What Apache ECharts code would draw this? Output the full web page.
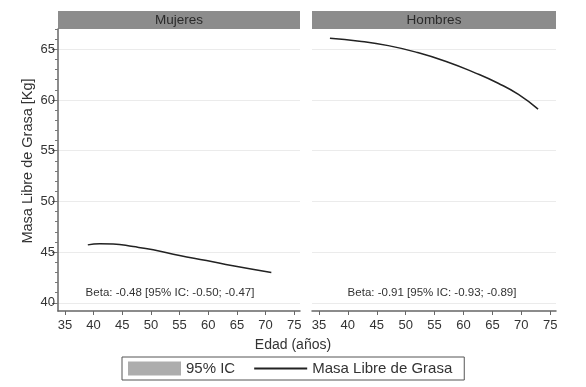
<!DOCTYPE html>
<html>
<head>
<meta charset="utf-8">
<script src="https://cdn.jsdelivr.net/npm/echarts@6/dist/echarts.min.js"></script>
<style>
  html, body { margin: 0; padding: 0; background: #fff; }
  #chart { width: 586px; height: 387px; }
</style>
</head>
<body>
<div id="chart"></div>
<script>
// datos
const panelNames = ['Mujeres', 'Hombres']
const xTicks = [35, 40, 45, 50, 55, 60, 65, 70, 75]
const yTicks = [40, 45, 50, 55, 60, 65]
const yMinorTicks = [39, 40, 41, 42, 43, 44, 45, 46, 47, 48, 49, 50, 51, 52, 53, 54, 55, 56, 57, 58, 59, 60, 61, 62, 63, 64, 65, 66, 67]
const mujeresEdad = [39.0, 41.1, 43.4, 46.9, 50.4, 55.0, 59.7, 64.3, 71.0]
const mujeresMasa = [45.72, 45.84, 45.81, 45.55, 45.23, 44.67, 44.18, 43.66, 43.0]
const hombresEdad = [36.9, 42, 47, 52, 57, 62, 66, 69.5, 72.9]
const hombresMasa = [66.08, 65.8, 65.36, 64.69, 63.8, 62.68, 61.65, 60.55, 59.1]
const betaTexts = ['Beta: -0.48 [95% IC: -0.50; -0.47]', 'Beta: -0.91 [95% IC: -0.93; -0.89]']

const chart = echarts.init(document.getElementById('chart'))

const font = 'Liberation Sans, Arial, sans-serif'
const grids = [
  { left: 58, top: 29, width: 242, height: 282 },
  { left: 312, top: 29, width: 244, height: 282 }
]

function xAxisFor (i) {
  return {
    type: 'value', gridIndex: i, min: 33.8, max: 76,
    axisLine: { show: true, lineStyle: { color: '#666', width: 1.5 } },
    axisTick: { show: true, customValues: xTicks, length: 4, lineStyle: { color: '#666' } },
    axisLabel: { customValues: xTicks, color: '#333', fontSize: 13, fontFamily: font, margin: 8 },
    splitLine: { show: false }
  }
}

function yAxisFor (i) {
  return {
    type: 'value', gridIndex: i, min: 39.2, max: 67, position: 'left',
    axisLine: { show: i === 0, lineStyle: { color: '#666', width: 1.5 } },
    axisTick: { show: i === 0, customValues: yTicks, length: 6, lineStyle: { color: '#666' } },
    axisLabel: { show: i === 0, customValues: yTicks, color: '#333', fontSize: 13, fontFamily: font, margin: 3 },
    splitLine: { show: true, lineStyle: { color: '#ebebeb', width: 1 } }
  }
}

// eje extra solo para las marcas menores
const minorAxis = {
  type: 'value', gridIndex: 0, min: 39.2, max: 67, position: 'left',
  axisLine: { show: false },
  axisTick: { show: true, customValues: yMinorTicks, length: 3, lineStyle: { color: '#777' } },
  axisLabel: { show: false },
  splitLine: { show: false }
}

const option = {
  backgroundColor: '#fff',
  animation: false,
  grid: grids,
  xAxis: [xAxisFor(0), xAxisFor(1)],
  yAxis: [yAxisFor(0), yAxisFor(1), minorAxis],
  legend: {
    left: 122, top: 357, width: 342,
    padding: [4, 12, 4, 6],
    borderColor: '#555', borderWidth: 1,
    itemWidth: 53, itemHeight: 14, itemGap: 18,
    textStyle: { color: '#333', fontSize: 15, fontFamily: font },
    data: [
      { name: '95% IC', icon: 'rect' },
      { name: 'Masa Libre de Grasa', itemStyle: { opacity: 0 } }
    ]
  },
  series: [
    {
      name: '95% IC', type: 'line', xAxisIndex: 0, yAxisIndex: 0,
      data: [], color: '#adadad', itemStyle: { color: '#adadad' }
    },
    {
      name: 'Masa Libre de Grasa', type: 'line', xAxisIndex: 0, yAxisIndex: 0,
      data: mujeresEdad.map((x, k) => [x, mujeresMasa[k]]),
      smooth: true, symbol: 'none', color: '#222',
      lineStyle: { color: '#222', width: 1.5 }
    },
    {
      name: 'Masa Libre de Grasa', type: 'line', xAxisIndex: 1, yAxisIndex: 1,
      data: hombresEdad.map((x, k) => [x, hombresMasa[k]]),
      smooth: true, symbol: 'none', color: '#222',
      lineStyle: { color: '#222', width: 1.5 }
    }
  ],
  graphic: [
    { type: 'rect', shape: { x: 58, y: 11, width: 242, height: 18 }, style: { fill: '#8c8c8c' } },
    { type: 'rect', shape: { x: 312, y: 11, width: 244, height: 18 }, style: { fill: '#8c8c8c' } },
    { type: 'text', x: 179, y: 20, style: { text: panelNames[0], fill: '#2a2a2a', font: '13.5px ' + font, align: 'center', verticalAlign: 'middle' } },
    { type: 'text', x: 434, y: 20, style: { text: panelNames[1], fill: '#2a2a2a', font: '13.5px ' + font, align: 'center', verticalAlign: 'middle' } },
    { type: 'text', x: 170, y: 293, style: { text: betaTexts[0], fill: '#333', font: '11.5px ' + font, align: 'center', verticalAlign: 'middle' } },
    { type: 'text', x: 432, y: 293, style: { text: betaTexts[1], fill: '#333', font: '11.5px ' + font, align: 'center', verticalAlign: 'middle' } },
    { type: 'text', x: 293, y: 345, style: { text: 'Edad (años)', fill: '#333', font: '14px ' + font, align: 'center', verticalAlign: 'middle' } },
    { type: 'text', x: 28, y: 161, rotation: Math.PI / 2, style: { text: 'Masa Libre de Grasa [Kg]', fill: '#333', font: '14.5px ' + font, align: 'center', verticalAlign: 'middle' } }
  ]
}

chart.setOption(option)
window.addEventListener('resize', () => {
  chart.resize()
})
</script>
</body>
</html>
